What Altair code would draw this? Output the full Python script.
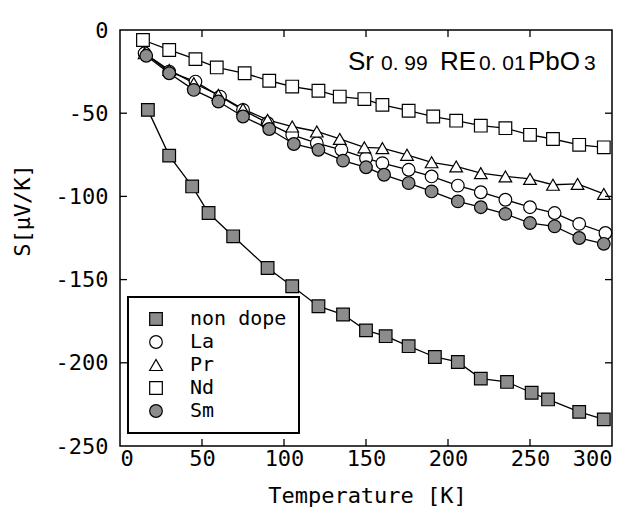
import altair as alt
import pandas as pd

series_names = ["non dope", "La", "Pr", "Nd", "Sm"]

T_nondope = [17, 30, 44, 54, 69, 90, 105, 121, 136, 150, 162, 176, 192, 206, 220, 236, 251, 261, 280, 295]
S_nondope = [-48, -75.5, -94, -110, -124, -143, -154, -166, -171, -180.5, -184, -190, -196.5, -199.5,
             -209.5, -211.5, -218, -222, -229.5, -234]

T_la = [15, 30, 46, 61, 75, 90, 105, 120, 135, 150, 160, 176, 190, 206, 220, 235, 250, 265, 280, 296]
S_la = [-14, -25, -31, -40, -48, -56, -63, -68, -72, -77, -80, -84, -88, -93.5, -97.5, -102, -106.5,
        -110, -116.5, -122]

T_pr = [15, 30, 45, 60, 75, 90, 105, 120, 134, 149, 160, 175, 190, 205, 220, 235, 250, 264, 279, 295]
S_pr = [-14, -24, -32, -39, -47.5, -54, -58, -61, -65.5, -70.5, -71, -75, -79.5, -82, -86, -88,
        -89.5, -93, -92.5, -98.5]

T_nd = [14, 30, 46, 59, 76, 91, 105, 121, 134, 149, 160, 176, 191, 205, 220, 235, 250, 264, 280, 295]
S_nd = [-6, -12, -17.5, -22.5, -26, -30.5, -34, -36.5, -40, -41.5, -45, -48.5, -52, -54.5, -57.5,
        -59, -63, -65.5, -69, -70.5]

T_sm = [16, 30, 45, 60, 75, 91, 106, 121, 136, 150, 161, 176, 190, 206, 220, 235, 250, 265, 280, 295]
S_sm = [-15.5, -26, -36, -43, -52, -59.5, -68.5, -72, -78.5, -82.5, -87, -92, -97, -103, -106.5,
        -110.5, -116, -118, -125, -128.5]

shapes = ["square", "circle", "triangle-up", "square", "circle"]
fills = ["#8c8c8c", "#ffffff", "#ffffff", "#ffffff", "#8c8c8c"]
strokes = ["#000000"] * 5

x_ticks = [0, 50, 100, 150, 200, 250, 300]
y_ticks = [0, -50, -100, -150, -200, -250]
x_inner_ticks = [50, 100, 150, 200, 250]
y_inner_ticks = [-50, -100, -150, -200]

title_parts = ["Sr", "0. 99", "RE", "0. 01", "PbO", "3"]

rows = []
for name, Ts, Ss in [("non dope", T_nondope, S_nondope), ("La", T_la, S_la), ("Pr", T_pr, S_pr),
                     ("Nd", T_nd, S_nd), ("Sm", T_sm, S_sm)]:
    for t, s in zip(Ts, Ss):
        rows.append({"series": name, "T": t, "S": s})
df = pd.DataFrame(rows)

W, H = 492, 416
MONO = "DejaVu Sans Mono"
SANS = "Liberation Sans"

xs = alt.Scale(domain=[0, 300], nice=False, zero=False)
ys = alt.Scale(domain=[-250, 0], nice=False, zero=False)

x_axis = alt.Axis(title="Temperature [K]", values=x_ticks, labelExpr="'' + datum.value",
                  labelPadding=2, titleX=247, titleY=56, titleBaseline="alphabetic",
                  titleAlign="center")
y_axis = alt.Axis(title="S[\u03bcV/K]", values=y_ticks, labelExpr="'' + datum.value",
                  labelPadding=12, titleX=-98, titleY=180, titleAngle=-90,
                  titleAlign="center", titleBaseline="middle")

legend = alt.Legend(title=None, orient="none", legendX=8, legendY=267, padding=12,
                    strokeColor="black", fillColor="white", labelFont=MONO, labelFontSize=20,
                    labelColor="black", symbolSize=160,
                    symbolStrokeWidth=1.2, symbolOffset=6, labelOffset=24, rowPadding=3)

lines = alt.Chart(df).mark_line(color="black", strokeWidth=1.3).encode(
    x=alt.X("T:Q", scale=xs, axis=x_axis),
    y=alt.Y("S:Q", scale=ys, axis=y_axis),
    detail="series:N",
)

points = alt.Chart(df).mark_point(filled=True, size=160, strokeWidth=1.2,
                                  opacity=1).encode(
    x=alt.X("T:Q", scale=xs),
    y=alt.Y("S:Q", scale=ys),
    shape=alt.Shape("series:N", scale=alt.Scale(domain=series_names, range=shapes),
                    legend=legend, sort=series_names),
    fill=alt.Fill("series:N", scale=alt.Scale(domain=series_names, range=fills),
                  legend=legend, sort=series_names),
    stroke=alt.Stroke("series:N", scale=alt.Scale(domain=series_names, range=strokes),
                      legend=legend, sort=series_names),
)

xt = pd.DataFrame({"v": x_inner_ticks})
yt = pd.DataFrame({"v": y_inner_ticks})
tick_bottom = alt.Chart(xt).mark_rule(color="black", strokeWidth=1.3).encode(
    x=alt.X("v:Q", scale=xs), y=alt.value(H), y2=alt.value(H - 7))
tick_top = alt.Chart(xt).mark_rule(color="black", strokeWidth=1.3).encode(
    x=alt.X("v:Q", scale=xs), y=alt.value(0), y2=alt.value(7))
tick_left = alt.Chart(yt).mark_rule(color="black", strokeWidth=1.3).encode(
    y=alt.Y("v:Q", scale=ys), x=alt.value(0), x2=alt.value(7))
tick_right = alt.Chart(yt).mark_rule(color="black", strokeWidth=1.3).encode(
    y=alt.Y("v:Q", scale=ys), x=alt.value(W), x2=alt.value(W - 7))

title_x = [228, 261, 320, 359, 408, 464]
title_size = [26, 21, 26, 21, 26, 21]
title_layers = []
for txt, px, fs in zip(title_parts, title_x, title_size):
    title_layers.append(
        alt.Chart(pd.DataFrame({"t": [txt]})).mark_text(
            font=SANS, fontSize=fs, align="left", baseline="alphabetic", color="black"
        ).encode(text="t:N", x=alt.value(px), y=alt.value(40))
    )

chart = alt.layer(lines, points, tick_bottom, tick_top, tick_left, tick_right, *title_layers).properties(
    width=W, height=H,
    padding={"left": 112, "top": 22, "right": 15, "bottom": 61},
    autosize=alt.AutoSizeParams(type="none"),
).configure_view(stroke="black", strokeWidth=1.5).configure_axis(
    grid=False, domain=False, ticks=False, tickSize=0,
    labelFont=MONO, labelFontSize=22, labelColor="black",
    titleFont=MONO, titleFontSize=22, titleColor="black", titleFontWeight="normal",
).configure_legend(
    strokeWidth=2
)

chart.save("out.html", embed_options={"renderer": "svg", "actions": False})
